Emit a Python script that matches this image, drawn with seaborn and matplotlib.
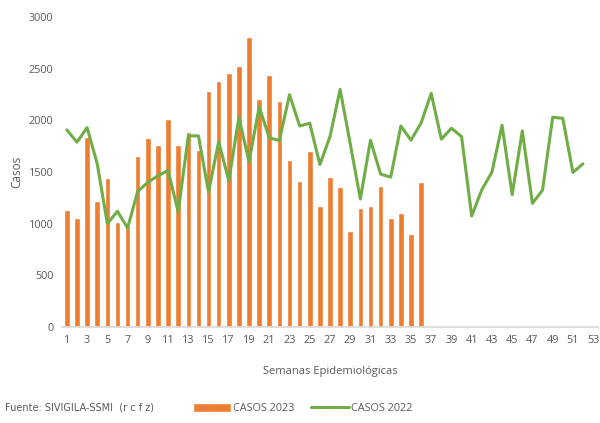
import matplotlib
matplotlib.use("Agg")
import matplotlib.pyplot as plt
import seaborn as sns
import pandas as pd

# Weekly cases
weeks_2023 = list(range(1, 37))
casos_2023 = [1135, 1058, 1842, 1215, 1444, 1016, 980, 1656, 1833, 1756,
              2010, 1756, 1887, 1711, 2286, 2376, 2453, 2527, 2807, 2206,
              2440, 2186, 1611, 1412, 1698, 1167, 1453, 1357, 926, 1154,
              1167, 1367, 1058, 1103, 904, 1399]

weeks_2022 = list(range(1, 53))
casos_2022 = [1907, 1788, 1929, 1579, 1000, 1119, 958, 1312, 1399, 1463,
              1514, 1113, 1849, 1849, 1305, 1794, 1415, 2029, 1598, 2129,
              1830, 1804, 2248, 1945, 1971, 1572, 1842, 2299, 1772, 1238,
              1807, 1479, 1450, 1945, 1807, 1974, 2260, 1817, 1923, 1842,
              1074, 1328, 1498, 1952, 1280, 1897, 1196, 1325, 2029, 2019,
              1495, 1579]

x_ticks = list(range(1, 54, 2))
y_ticks = [0, 500, 1000, 1500, 2000, 2500, 3000]

ORANGE = "#ED7D31"
GREEN = "#70AD47"
TEXT = "#595959"

sns.set_theme(style="white")
plt.rcParams["font.family"] = ["Open Sans", "DejaVu Sans"]

df23 = pd.DataFrame({"semana": weeks_2023, "casos": casos_2023})
df22 = pd.DataFrame({"semana": weeks_2022, "casos": casos_2022})

fig = plt.figure(figsize=(6, 4.23), dpi=100)
ax = fig.add_axes([0.103, 0.227, 0.894, 0.733])

sns.barplot(data=df23, x="semana", y="casos", native_scale=True,
            color=ORANGE, saturation=1, width=0.55, ax=ax, label="CASOS 2023")
sns.lineplot(data=df22, x="semana", y="casos", color=GREEN, linewidth=2.2,
             ax=ax, label="CASOS 2022")

ax.set_xlim(0.5, 53.5)
ax.set_ylim(0, 3000)
ax.set_xticks(x_ticks)
ax.set_yticks(y_ticks)
ax.tick_params(axis="both", labelsize=7.8, colors=TEXT, length=0, pad=6)
ax.set_xlabel("Semanas Epidemiológicas", fontsize=8, color=TEXT, labelpad=14)
ax.set_ylabel("Casos", fontsize=8.5, color=TEXT, labelpad=4)

for side in ["top", "right", "left"]:
    ax.spines[side].set_visible(False)
ax.spines["bottom"].set_color("#D9D9D9")

# legend: bars first, then line
handles, labels = ax.get_legend_handles_labels()
order = [labels.index("CASOS 2023"), labels.index("CASOS 2022")]
ax.legend([handles[i] for i in order], [labels[i] for i in order],
          loc="center", bbox_to_anchor=(0.505, 0.035), bbox_transform=fig.transFigure,
          ncol=2, frameon=False, fontsize=7.8, handlelength=3.5, handleheight=0.9,
          handletextpad=0.2, columnspacing=1.5, labelcolor=TEXT)

fig.text(0.008, 0.03, "Fuente: SIVIGILA-SSMI  (r c f z)", fontsize=7,
         color=TEXT, family=["Liberation Sans Narrow", "DejaVu Sans"])

fig.savefig("out.png", dpi=100)
